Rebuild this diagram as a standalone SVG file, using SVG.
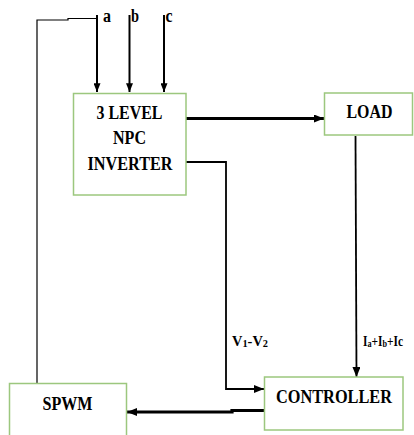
<svg xmlns="http://www.w3.org/2000/svg" width="414" height="435" viewBox="0 0 414 435">
<defs>
<style>
.box{fill:#ffffff;stroke:#9cc77e;stroke-width:1.5}
.t{font-family:"Liberation Serif","Times New Roman",serif;font-weight:bold;fill:#000}
.lbl{font-size:19px;text-anchor:middle}
.abc{font-size:18px}
.w{fill:none;stroke:#000}
</style>
<marker id="ah" viewBox="0 0 10 8" refX="10" refY="4" markerWidth="10" markerHeight="8" markerUnits="userSpaceOnUse" orient="auto">
<path d="M0,0 L10,4 L0,8 Z" fill="#000"/>
</marker>
<marker id="ahs" viewBox="0 0 10 8" refX="10" refY="4" markerWidth="9" markerHeight="7" markerUnits="userSpaceOnUse" orient="auto">
<path d="M0,0 L10,4 L0,8 Z" fill="#000"/>
</marker>
</defs>
<rect width="414" height="435" fill="#ffffff"/>
<g id="connectors">
<polyline class="w" points="37,383 37,20 68,20 68,18.5 97,18.5" stroke="#555" stroke-width="1.2"/>
<line class="w" x1="97" y1="15" x2="97" y2="92" stroke-width="2" marker-end="url(#ahs)"/>
<line class="w" x1="129.5" y1="15" x2="129.5" y2="92" stroke-width="2" marker-end="url(#ahs)"/>
<line class="w" x1="164" y1="15" x2="164" y2="92" stroke-width="2" marker-end="url(#ahs)"/>
<line class="w" x1="186" y1="118.5" x2="324" y2="118.5" stroke-width="3.2" marker-end="url(#ah)"/>
<polyline class="w" points="186,162 226,162 226,389 264,389" stroke-width="1.8" marker-end="url(#ah)"/>
<line class="w" x1="355.5" y1="136" x2="356.5" y2="377" stroke-width="1.8" marker-end="url(#ah)"/>
<polyline class="w" points="264,410.5 232,410.5 232,412 127,412" stroke-width="3.2" marker-end="url(#ah)"/>
<text class="t abc" x="103" y="22" textLength="8" lengthAdjust="spacingAndGlyphs">a</text>
<text class="t abc" x="131" y="22" textLength="8" lengthAdjust="spacingAndGlyphs">b</text>
<text class="t abc" x="165.5" y="22" textLength="7" lengthAdjust="spacingAndGlyphs">c</text>
<text class="t" x="232" y="346" font-size="14" textLength="36" lengthAdjust="spacingAndGlyphs">V<tspan font-size="10" dy="1">1</tspan><tspan font-size="14" dy="-1">-V</tspan><tspan font-size="10" dy="1">2</tspan></text>
<text class="t" x="363" y="345.5" font-size="14" textLength="40" lengthAdjust="spacingAndGlyphs">I<tspan font-size="10" dy="1">a</tspan><tspan font-size="14" dy="-1">+I</tspan><tspan font-size="10" dy="1">b</tspan><tspan font-size="14" dy="-1">+Ic</tspan></text>
</g>
<g id="inverter">
<rect class="box" x="73.5" y="93.5" width="112.5" height="101.5"/>
<text class="t lbl" x="129.5" y="118.5" textLength="66" lengthAdjust="spacingAndGlyphs">3 LEVEL</text>
<text class="t lbl" x="129.5" y="143.5" textLength="33" lengthAdjust="spacingAndGlyphs">NPC</text>
<text class="t lbl" x="130" y="169.5" textLength="85" lengthAdjust="spacingAndGlyphs">INVERTER</text>
</g>
<g id="load">
<rect class="box" x="324.5" y="93" width="88" height="42"/>
<text class="t lbl" x="369.5" y="117.5" textLength="46" lengthAdjust="spacingAndGlyphs">LOAD</text>
</g>
<g id="controller">
<rect class="box" x="264.5" y="377" width="138.5" height="53"/>
<text class="t lbl" x="334" y="403" textLength="116" lengthAdjust="spacingAndGlyphs">CONTROLLER</text>
</g>
<g id="spwm">
<rect class="box" x="9.5" y="383.5" width="117" height="60"/>
<text class="t lbl" x="67.5" y="410" textLength="50" lengthAdjust="spacingAndGlyphs">SPWM</text>
</g>
</svg>
